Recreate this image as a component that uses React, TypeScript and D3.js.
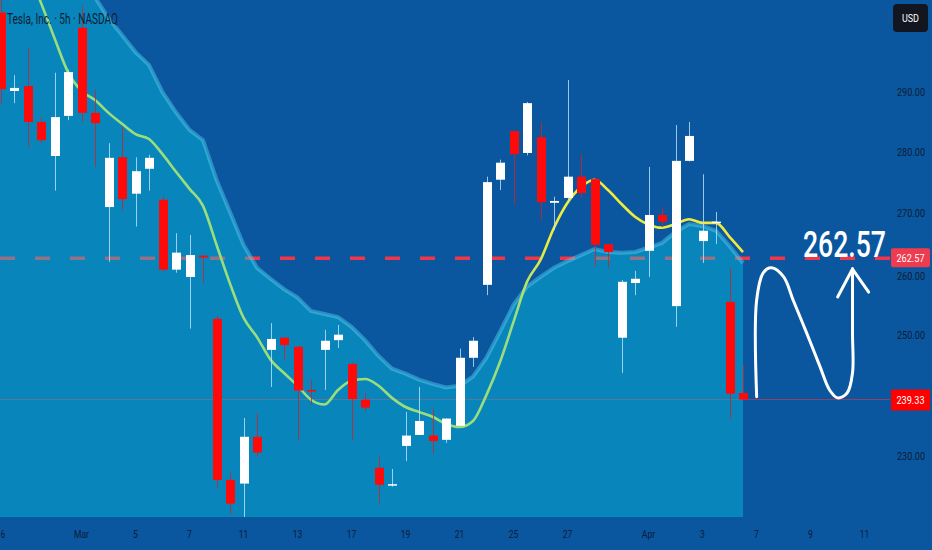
import React from "react";
import * as d3 from "d3";

// ---- Data ----
const opens = [303.0, 290.1, 290.9, 285.0, 279.4, 286.0, 300.5, 286.5, 271.0, 279.2, 273.2, 277.3, 272.2, 260.7, 259.5, 263.0, 252.6, 226.1, 225.5, 233.2, 247.5, 249.5, 248.0, 240.9, 247.5, 249.1, 245.2, 239.3, 228.1, 225.3, 231.7, 233.5, 233.4, 232.7, 235.0, 246.2, 258.2, 275.5, 283.5, 279.9, 282.5, 271.7, 272.5, 276.0, 275.6, 264.9, 249.5, 258.5, 263.8, 269.7, 254.7, 278.6, 265.4, 268.5, 255.4, 240.4];
const highs = [305.5, 292.7, 297.2, 285.8, 293.1, 293.6, 304.1, 290.3, 281.5, 284.2, 279.2, 279.6, 272.7, 266.7, 266.4, 263.1, 253.1, 227.3, 236.3, 237.1, 251.9, 249.6, 248.2, 242.6, 250.8, 251.6, 245.4, 240.4, 229.9, 227.9, 237.3, 241.4, 237.8, 236.2, 247.7, 249.6, 276.0, 278.8, 283.5, 288.3, 285.0, 272.7, 291.9, 279.7, 275.8, 264.9, 259.0, 260.5, 277.6, 271.0, 284.5, 285.0, 276.4, 270.2, 261.0, 245.0];
const lows = [288.0, 288.1, 280.9, 281.5, 273.7, 285.3, 285.0, 277.6, 262.0, 270.5, 267.8, 273.7, 260.4, 260.2, 251.0, 258.5, 224.8, 220.4, 220.0, 229.9, 241.4, 245.9, 232.7, 238.5, 240.9, 247.8, 232.7, 237.3, 222.3, 225.0, 229.2, 233.5, 230.4, 232.2, 235.0, 244.7, 256.5, 273.8, 271.3, 279.5, 268.9, 267.2, 271.8, 272.5, 261.2, 261.0, 243.7, 256.5, 259.5, 267.7, 251.3, 278.5, 261.8, 264.9, 236.2, 239.3];
const closes = [290.4, 290.6, 285.0, 282.0, 285.8, 293.2, 286.5, 284.8, 279.1, 272.3, 276.9, 279.1, 260.7, 263.5, 263.1, 262.7, 226.1, 222.2, 233.2, 230.6, 249.3, 248.3, 240.8, 240.7, 249.0, 250.0, 239.4, 238.0, 225.3, 225.4, 233.4, 235.8, 232.5, 236.2, 246.2, 249.0, 275.1, 278.3, 279.7, 288.1, 271.8, 272.0, 276.0, 273.3, 264.8, 263.6, 258.7, 259.2, 269.7, 268.6, 278.6, 282.7, 267.1, 268.6, 240.3, 239.33];

const maValues = [320.7, 315.3, 310.0, 304.6, 298.8, 293.2, 290.1, 288.6, 286.5, 284.7, 283.0, 282.2, 279.7, 276.8, 274.0, 271.2, 264.8, 258.4, 252.8, 249.6, 245.9, 243.7, 241.6, 239.3, 238.5, 240.9, 242.4, 242.7, 241.6, 239.6, 238.1, 237.3, 236.5, 235.3, 234.8, 235.8, 240.1, 245.5, 252.1, 258.7, 262.3, 267.6, 271.7, 274.3, 275.5, 273.8, 271.5, 269.4, 268.1, 267.6, 268.2, 269.0, 268.4, 268.4, 266.1, 263.6];

const upperBand = [318, 316, 314, 312, 310, 308.5, 307, 305.5, 302.1, 299.3, 296.5, 294.4, 289.9, 286.6, 283.7, 282.0, 275.5, 270.2, 264.8, 261.0, 259.2, 257.5, 256.1, 253.9, 253.4, 252.9, 251.3, 249.1, 246.5, 244.4, 243.6, 242.6, 241.9, 241.3, 241.6, 243.1, 246.2, 250.5, 254.9, 257.9, 259.5, 261.0, 262.1, 263.1, 264.1, 263.6, 263.5, 263.6, 264.3, 265.1, 266.9, 268.2, 267.9, 267.1, 264.6, 261.8];

const dateLabels = ["6", "Mar", "5", "7", "11", "13", "17", "19", "21", "25", "27", "Apr", "3", "7", "9", "11"];
const dateIndex = [0, 6, 10, 14, 18, 22, 26, 30, 34, 38, 42, 48, 52, 56, 60, 64];

const priceTicks = [230, 250, 260, 270, 280, 290];
const targetPrice = 262.57;
const lastPrice = 239.33;

const waveIdx = [55.9, 55.9, 56.4, 57.0, 57.9, 58.6, 59.6, 60.6, 61.3, 61.9, 62.6, 63.0, 63.0, 63.0, 63.0];
const wavePrice = [239.8, 255.7, 260.2, 261.0, 259.5, 255.7, 250.3, 244.7, 240.9, 239.6, 240.4, 243.7, 250.3, 259.5, 260.9];
const headIdx = [61.9, 63.0, 64.2];
const headPrice = [256.2, 260.8, 257.0];

const title = "Tesla, Inc. · 5h · NASDAQ";

const W = 932;
const H = 550;
const PLOT_BOTTOM = 517;

export default function App() {
  const x = d3.scaleLinear().domain([0, 64]).range([0.5, 864.5]);
  const y = d3.scaleLinear().domain([220, 305.07]).range([PLOT_BOTTOM, 0]);

  const area = d3
    .area<number>()
    .x((_, i) => (i === 0 ? 0 : x(i)))
    .y0(y(220))
    .y1((d) => y(d));
  const edge = d3
    .line<number>()
    .x((_, i) => (i === 0 ? 0 : x(i)))
    .y((d) => y(d));
  const maPath = d3
    .line<number>()
    .x((_, i) => x(i))
    .y((d) => y(d))
    .curve(d3.curveMonotoneX)(maValues);

  const wavePts: [number, number][] = waveIdx.map((v, i) => [x(v) + 1.5, y(wavePrice[i])]);
  const wave = d3.line().curve(d3.curveCatmullRom.alpha(0.5))(wavePts);
  const headPts: [number, number][] = headIdx.map((v, i) => [x(v) + 1.5, y(headPrice[i])]);
  const head = d3.line()(headPts);

  const axisX = 911;
  const bg = "#0a579f";
  const textDark = "#0d1c36";

  return (
    <svg
      width={W}
      height={H}
      style={{ position: "absolute", left: 0, top: 0, display: "block" }}
      fontFamily="Roboto, 'DejaVu Sans', sans-serif"
    >
      <defs>
        <linearGradient id="maGrad" gradientUnits="userSpaceOnUse" x1={0} x2={W} y1={0} y2={0}>
          <stop offset="0" stopColor="#9ade7c" />
          <stop offset={515 / W} stopColor="#9ade7c" />
          <stop offset={548 / W} stopColor="#eeea3e" />
          <stop offset="1" stopColor="#eeea3e" />
        </linearGradient>
        <clipPath id="plotClip">
          <rect x={0} y={0} width={890} height={PLOT_BOTTOM} />
        </clipPath>
      </defs>
      <rect x={0} y={0} width={W} height={H} fill={bg} />

      <g clipPath="url(#plotClip)">
        <line x1={0} x2={891} y1={y(lastPrice)} y2={y(lastPrice)} stroke="rgba(255,50,60,0.55)" strokeWidth={1} />
        <line
          x1={0}
          x2={891}
          y1={y(targetPrice)}
          y2={y(targetPrice)}
          stroke="#f2364a"
          strokeWidth={3.5}
          strokeDasharray="15 20"
        />
        <path d={area(upperBand) || ""} fill="rgba(5,205,230,0.4)" />
        <path d={edge(upperBand) || ""} fill="none" stroke="rgba(95,215,245,0.42)" strokeWidth={4} />

        <path d={maPath || ""} fill="none" stroke="url(#maGrad)" strokeWidth={2.6} strokeLinejoin="round" />

        {opens.map((o, i) => {
          const c = closes[i];
          const up = c >= o;
          const cx = Math.round(x(i));
          const top = y(Math.max(o, c));
          const bot = y(Math.min(o, c));
          const col = up ? "#ffffff" : "#ff0a0a";
          return (
            <g key={i}>
              <line
                x1={cx + 0.5}
                x2={cx + 0.5}
                y1={y(highs[i])}
                y2={y(lows[i])}
                stroke={up ? "#bfe2ff" : "#d0202c"}
                strokeOpacity={0.8}
                strokeWidth={1}
              />
              <rect x={cx - 4} y={top} width={9} height={Math.max(1.5, bot - top)} fill={col} />
            </g>
          );
        })}
      </g>

      <text x={7} y={24} fontSize={14} fill={textDark} textLength={111} lengthAdjust="spacingAndGlyphs">
        {title}
      </text>

      <path d={wave || ""} fill="none" stroke="#ffffff" strokeWidth={3} strokeLinecap="round" strokeLinejoin="round" />
      <path d={head || ""} fill="none" stroke="#ffffff" strokeWidth={3} strokeLinecap="round" strokeLinejoin="round" />
      <text
        x={844.5}
        y={y(262.75)}
        fontSize={36}
        fill="#ffffff"
        textAnchor="middle"
        textLength={83}
        lengthAdjust="spacingAndGlyphs"
        fontWeight={500}
      >
        {targetPrice.toFixed(2)}
      </text>

      {priceTicks.map((t) => (
        <text
          key={t}
          x={axisX}
          y={y(t) + (t === 260 ? 6 : 4)}
          fontSize={11}
          fill={textDark}
          textAnchor="middle"
          textLength={28}
          lengthAdjust="spacingAndGlyphs"
        >
          {t.toFixed(2)}
        </text>
      ))}

      {dateLabels.map((lab, i) => (
        <text
          key={i}
          transform={`translate(${i === 0 ? 3 : x(dateIndex[i])},538) scale(0.78,1)`}
          fontSize={11}
          fill={textDark}
          textAnchor="middle"
        >
          {lab}
        </text>
      ))}

      <rect x={891} y={y(targetPrice) - 10} width={39} height={19} rx={2} fill="#ef3b4e" />
      <text
        x={910.5}
        y={y(targetPrice) + 3.5}
        fontSize={10.5}
        fill="#ffffff"
        textAnchor="middle"
        textLength={28}
        lengthAdjust="spacingAndGlyphs"
      >
        {targetPrice.toFixed(2)}
      </text>
      <rect x={891} y={y(lastPrice) - 10} width={39} height={21} rx={1} fill="#ff0000" />
      <text
        x={910.5}
        y={y(lastPrice) + 4.5}
        fontSize={11}
        fill="#ffffff"
        textAnchor="middle"
        textLength={28}
        lengthAdjust="spacingAndGlyphs"
      >
        {lastPrice.toFixed(2)}
      </text>

      <rect x={893} y={4} width={35} height={28} rx={4} fill="#121620" />
      <text x={910.5} y={22} fontSize={11} fill="#ffffff" textAnchor="middle" textLength={17} lengthAdjust="spacingAndGlyphs">
        USD
      </text>
    </svg>
  );
}
